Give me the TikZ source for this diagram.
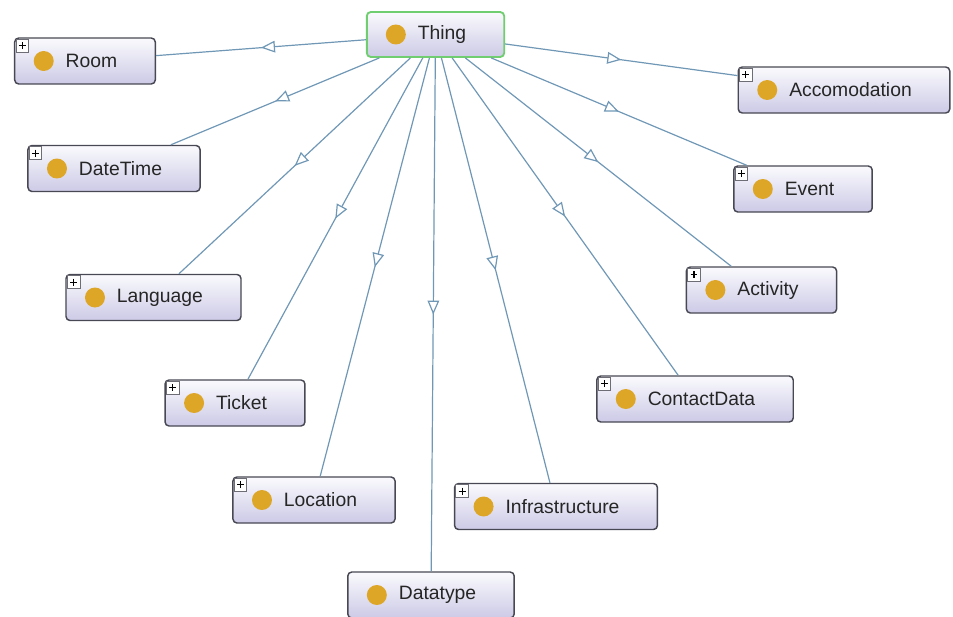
\documentclass[tikz,border=0pt]{standalone}
\usepackage{fontspec}
\setmainfont{Liberation Sans}
\usepackage{xcolor}
\usepackage{tikz}
\usetikzlibrary{arrows.meta, decorations.markings}

\definecolor{clsborder}{RGB}{72,72,84}
\definecolor{clstop}{RGB}{250,250,253}
\definecolor{clsbottom}{RGB}{204,202,230}
\definecolor{clsdot}{RGB}{222,166,38}
\definecolor{isaline}{RGB}{112,152,182}
\definecolor{thingborder}{RGB}{112,206,112}

\newcommand{\classdot}{%
  \fill[clsdot] ([xshift=21.75pt]path picture bounding box.west) circle (7.5pt);}
\newcommand{\plussign}{%
  \draw[black, line width=0.9pt]
    ([xshift=-2.6pt]path picture bounding box.center) -- ++(5.2pt,0pt);
  \draw[black, line width=0.9pt]
    ([yshift=2.6pt]path picture bounding box.center) -- ++(0pt,-5.2pt);}

\begin{document}
\begin{tikzpicture}[
  x=0.75pt, y=-0.75pt,
  cls/.style={rectangle, rounded corners=3pt, draw=clsborder, line width=1.1pt,
    top color=clstop, bottom color=clsbottom, minimum height=34.5pt,
    inner xsep=28.5pt, font=\fontsize{14.5pt}{17pt}\selectfont, text=black!85,
    path picture={\classdot}},
  plusbox/.style={rectangle, draw=clsborder!80, fill=white, line width=0.6pt,
    minimum size=9.5pt, inner sep=0pt, path picture={\plussign}},
  clsplus/.style={cls, append after command={
    ([shift={(1.2pt,-1.2pt)}]\tikzlastnode.north west) node[plusbox, anchor=north west] {}}},
  thingbox/.style={cls, draw=thingborder, line width=1.4pt, minimum height=33.75pt},
  isa/.style={draw=isaline, line width=0.9pt, postaction={decorate},
    decoration={markings, mark=at position 0.5 with
      {\arrow{Triangle[length=10.5pt, width=8.75pt, fill=white]}}}}
]
\useasboundingbox (0,0) rectangle (953,617);

\node[thingbox] (thing) at (435.5,34.5) {\hspace*{9.75pt}Thing};

\node[clsplus] (room) at (85,61) {\hspace*{9.75pt}Room};
\node[clsplus] (datetime) at (114,168.5) {\hspace*{9.75pt}DateTime};
\node[clsplus] (language) at (153.5,297.5) {\hspace*{9.75pt}Language};
\node[clsplus] (ticket) at (235,403) {\hspace*{9.75pt}Ticket};
\node[clsplus] (location) at (314,500) {\hspace*{9.75pt}Location};
\node[cls] (datatype) at (431,595) {\hspace*{9.75pt}Datatype};
\node[clsplus] (infra) at (556,506.5) {\hspace*{9.75pt}Infrastructure};
\node[clsplus] (contact) at (695,399) {\hspace*{9.75pt}ContactData};
\node[clsplus] (activity) at (761.5,290) {\hspace*{9.75pt}Activity};
\node[clsplus] (event) at (803,189) {\hspace*{9.75pt}Event};
\node[clsplus] (accom) at (844,90) {\hspace*{9.75pt}Accomodation};

\draw[isa] (thing) -- (room);
\draw[isa] (thing) -- (datetime);
\draw[isa] (thing) -- (language);
\draw[isa] (thing) -- (ticket);
\draw[isa] (thing) -- (location);
\draw[isa] (thing) -- (datatype);
\draw[isa] (thing) -- (infra);
\draw[isa] (thing) -- (contact);
\draw[isa] (thing) -- (activity);
\draw[isa] (thing) -- (event);
\draw[isa] (thing) -- (accom);
\end{tikzpicture}
\end{document}
